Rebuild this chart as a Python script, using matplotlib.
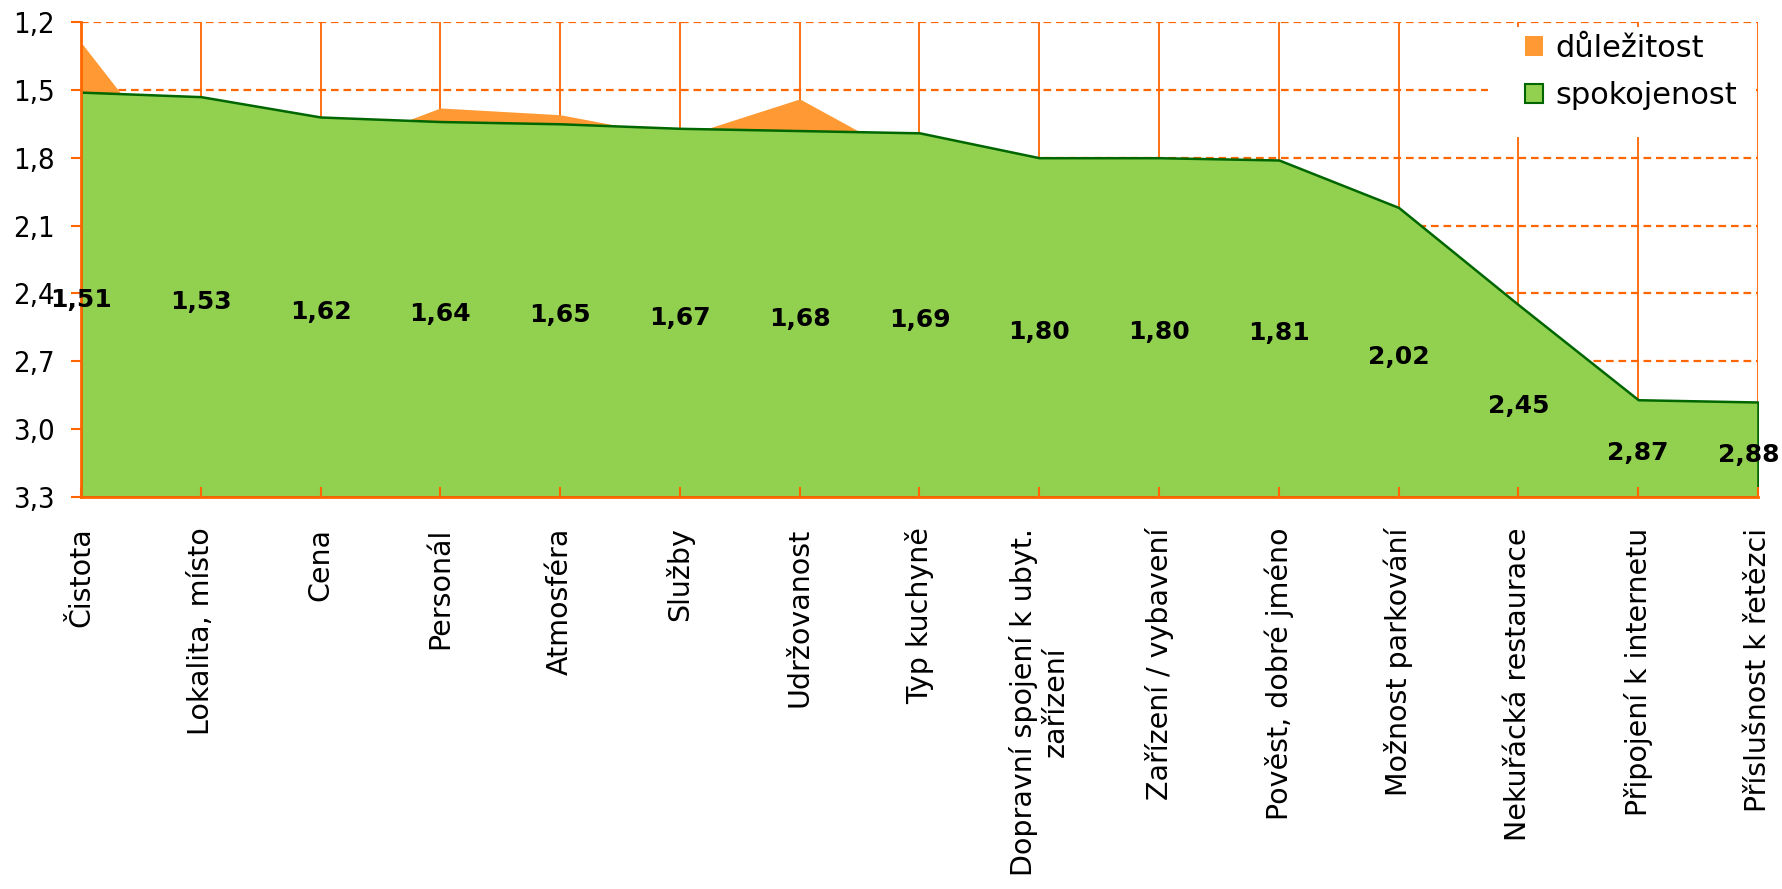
import numpy as np
import matplotlib
matplotlib.use("Agg")
import matplotlib.pyplot as plt
from matplotlib.patches import Patch, Rectangle

plt.rcParams['font.family'] = ['DejaVu Sans']
plt.rcParams['lines.scale_dashes'] = False

# --- data ---
categories = [
    "Čistota", "Lokalita, místo", "Cena", "Personál", "Atmosféra", "Služby",
    "Udržovanost", "Typ kuchyně", "Dopravní spojení k ubyt.\nzařízení",
    "Zařízení / vybavení", "Pověst, dobré jméno", "Možnost parkování",
    "Nekuřácká restaurace", "Připojení k internetu", "Příslušnost k řetězci",
]
dulezitost = [1.29, 1.97, 1.78, 1.58, 1.61, 1.71, 1.54, 1.83, 2.00, 1.95,
              2.10, 2.30, 2.60, 3.05, 3.10]
spokojenost = [1.51, 1.53, 1.62, 1.64, 1.65, 1.67, 1.68, 1.69, 1.80, 1.80,
               1.81, 2.02, 2.45, 2.87, 2.88]
y_ticks = [1.2, 1.5, 1.8, 2.1, 2.4, 2.7, 3.0, 3.3]
y_tick_labels = ["1,2", "1,5", "1,8", "2,1", "2,4", "2,7", "3,0", "3,3"]

ORANGE_LINE = '#FF6600'
ORANGE_FILL = '#FF9933'
GREEN_FILL = '#92D050'
GREEN_EDGE = '#006600'

y_min, y_max = y_ticks[0], y_ticks[-1]
x = np.arange(len(categories))

fig = plt.figure(figsize=(17.83, 8.89), dpi=100)
ax = fig.add_axes([81 / 1783, 1 - 497 / 889, 1677 / 1783, 475 / 889])

# grid: dashed horizontals, solid verticals at each category
for yv in y_ticks:
    ax.axhline(yv, color=ORANGE_LINE, lw=1.6, linestyle=(0, (5.5, 3.5)), zorder=0.5)
for xv in x[1:]:
    ax.axvline(xv, color=ORANGE_LINE, lw=1.3, zorder=0.5)

# areas (axis is reversed, so fill down to the largest value)
ax.fill_between(x, dulezitost, y_max, color=ORANGE_FILL, lw=0, zorder=1.0)
ax.fill_between(x, spokojenost, y_max, facecolor=GREEN_FILL,
                edgecolor=GREEN_EDGE, lw=1.8, zorder=1.2)

# value labels in the middle of the green area
for i, v in enumerate(spokojenost):
    dx = -9 if i == len(spokojenost) - 1 else 0
    ax.annotate(f"{v:.2f}".replace('.', ','), (i, (v + y_max) / 2),
                xytext=(dx, -5), textcoords='offset pixels',
                ha='center', va='center', fontsize=18, fontweight='bold',
                color='black', zorder=6, annotation_clip=False)

ax.set_xlim(x[0], x[-1])
ax.set_ylim(y_max, y_min)
ax.set_yticks(y_ticks)
ax.set_yticklabels(y_tick_labels, fontstretch='condensed')
ax.set_xticks(x)
ax.set_xticklabels(categories, rotation=90, ha='center', va='top',
                   multialignment='center')

for side in ('top', 'right'):
    ax.spines[side].set_visible(False)
for side in ('left', 'bottom'):
    ax.spines[side].set_color(ORANGE_LINE)
    ax.spines[side].set_linewidth(2)
    ax.spines[side].set_zorder(5)

ax.tick_params(axis='y', direction='out', length=7, width=1.5,
               color=ORANGE_LINE, labelsize=21, pad=12)
ax.tick_params(axis='x', direction='in', length=7, width=1.5,
               color=ORANGE_LINE, labelsize=20.5, pad=22)

# legend on a white patch that hides the grid behind it
ax.add_patch(Rectangle((0.839, 0.758), 0.159, 0.232, transform=ax.transAxes,
                       facecolor='white', edgecolor='none', zorder=0.8))
handles = [
    Patch(facecolor=ORANGE_FILL, edgecolor='none', label='důležitost'),
    Patch(facecolor=GREEN_FILL, edgecolor=GREEN_EDGE, lw=1.5, label='spokojenost'),
]
ax.legend(handles=handles, loc='upper left', bbox_to_anchor=(0.861, 0.975),
          frameon=False, fontsize=22, handlelength=0.6, handleheight=0.6,
          handletextpad=0.4, labelspacing=0.6, borderpad=0, borderaxespad=0)

fig.savefig('out.png', dpi=100)
